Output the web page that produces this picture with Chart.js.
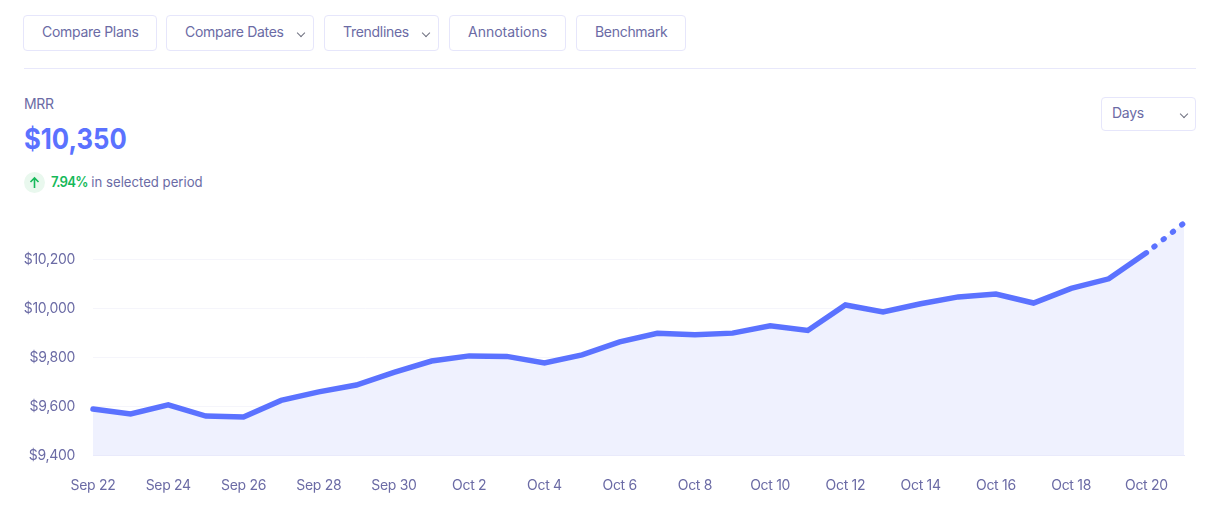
<!DOCTYPE html>
<html>
<head>
<meta charset="utf-8">
<script src="https://cdn.jsdelivr.net/npm/chart.js@4"></script>
<style>
html,body{margin:0;padding:0;background:#fff;width:1216px;height:507px;overflow:hidden;font-family:Inter,"Noto Sans",sans-serif;color:#6b6ba5;-webkit-font-smoothing:antialiased}
.btn{position:absolute;top:15px;height:34px;box-sizing:content-box;border:1px solid #e6e6fb;border-radius:4px;background:#fff;font-size:14px;line-height:31px;color:#6b6ba5;white-space:nowrap;letter-spacing:-.3px}
.btn span{position:absolute;top:0}
.chev{position:absolute;width:5px;height:5px;border-right:1.5px solid #6f7180;border-bottom:1.5px solid #6f7180;transform:rotate(45deg)}
#rule{position:absolute;left:24px;top:68px;width:1172px;height:1px;background:#e8e8fb}
#mrr{position:absolute;left:24px;top:95px;font-size:14px;line-height:18px;letter-spacing:-.3px}
#big{position:absolute;left:23.5px;top:121px;font-size:29px;line-height:36px;font-weight:700;color:#5b72ff;white-space:nowrap;transform:scaleX(.885);transform-origin:left center}
#badge{position:absolute;left:24px;top:172px;width:21px;height:21px;border-radius:50%;background:#e9f8ee}
#pct{position:absolute;left:51px;top:173px;font-size:14px;line-height:18px;white-space:nowrap;transform:scaleX(.94);transform-origin:left center}
#pct b{color:#16b95a;font-weight:600;letter-spacing:-.8px}
#wrap{position:absolute;left:0;top:200px;width:1216px;height:307px}
canvas{display:block}
</style>
</head>
<body>
<div class="btn" style="left:23px;width:132px"><span style="left:18px">Compare Plans</span></div>
<div class="btn" style="left:166px;width:146px"><span style="left:18px">Compare Dates</span><i class="chev" style="left:131px;top:14px"></i></div>
<div class="btn" style="left:324px;width:113px"><span style="left:18px">Trendlines</span><i class="chev" style="left:98px;top:14px"></i></div>
<div class="btn" style="left:449px;width:115px"><span style="left:18px;letter-spacing:0">Annotations</span></div>
<div class="btn" style="left:576px;width:108px"><span style="left:18px">Benchmark</span></div>
<div id="rule"></div>
<div id="mrr">MRR</div>
<div id="big">$10,350</div>
<div id="badge"><svg width="21" height="21" viewBox="0 0 21 21"><path d="M10.5 16V6M6.5 10l4-4 4 4" fill="none" stroke="#16b95a" stroke-width="1.6"/></svg></div>
<div id="pct"><b>7.94%</b> in selected period</div>
<div class="btn" style="left:1101px;top:97px;width:93px;height:32px"><span style="left:10px;line-height:29px">Days</span><i class="chev" style="left:79px;top:13px"></i></div>
<div id="wrap"><canvas id="c" width="1216" height="307" style="width:1216px;height:307px"></canvas></div>
<script>
const categories = ["Sep 22","Sep 23","Sep 24","Sep 25","Sep 26","Sep 27","Sep 28","Sep 29","Sep 30","Oct 1","Oct 2","Oct 3","Oct 4","Oct 5","Oct 6","Oct 7","Oct 8","Oct 9","Oct 10","Oct 11","Oct 12","Oct 13","Oct 14","Oct 15","Oct 16","Oct 17","Oct 18","Oct 19","Oct 20","Oct 21"];
const mrrValues = [9590,9570,9607,9561,9557,9625,9660,9688,9740,9786,9807,9805,9778,9811,9864,9899,9893,9900,9930,9911,10015,9987,10020,10048,10060,10023,10083,10122,10228,10350];
const yTicks = [9400,9600,9800,10000,10200];
const tickFont = {family:'Inter', size:14};
const textColor = '#6b6ba5';
const lastSegment = categories.length - 2;
const tightText = {id:'tightText', beforeDraw(chart){chart.ctx.letterSpacing='-0.3px';}};
new Chart(document.getElementById('c'), {
  type:'line',
  plugins:[tightText],
  data:{labels:categories, datasets:[{
    data:mrrValues,
    order:2,
    borderWidth:0,
    borderColor:'transparent',
    backgroundColor:'#eff1fe',
    fill:'start',
    tension:0,
    pointRadius:0
  },{
    data:mrrValues,
    order:1,
    borderColor:'#5b72ff',
    borderWidth:5.5,
    borderCapStyle:'round',
    borderJoinStyle:'miter',
    fill:false,
    tension:0,
    pointRadius:0,
    clip:false,
    segment:{
      borderDash:ctx => ctx.p0DataIndex === lastSegment ? [1,10.8] : undefined,
      borderDashOffset:ctx => ctx.p0DataIndex === lastSegment ? 2 : undefined
    }
  }]},
  options:{
    responsive:false, animation:false, devicePixelRatio:1,
    layout:{padding:{top:23,right:32,left:0,bottom:0}},
    plugins:{legend:{display:false},tooltip:{enabled:false}},
    scales:{
      x:{
        offset:false,
        grid:{display:false},
        border:{display:true,color:'#e8e8fb',width:1},
        afterFit(s){s.height=51.5;s.paddingLeft=0;s.paddingRight=0;},
        ticks:{color:textColor,font:tickFont,autoSkip:false,maxRotation:0,padding:14,
          callback(v,i){return i%2===0 && i<categories.length-1 ? categories[i] : '';}}
      },
      y:{
        min:9400,max:10350,
        afterFit(s){s.width=93;s.paddingTop=0;s.paddingBottom=0;},
        afterBuildTicks(s){s.ticks=yTicks.map(v=>({value:v}));},
        grid:{color:'#f5f5fb',lineWidth:1,drawTicks:false},
        border:{display:false},
        ticks:{color:textColor,font:tickFont,padding:18,
          callback(v){return '$'+v.toLocaleString('en-US');}}
      }
    }
  }
});
</script>
</body>
</html>
